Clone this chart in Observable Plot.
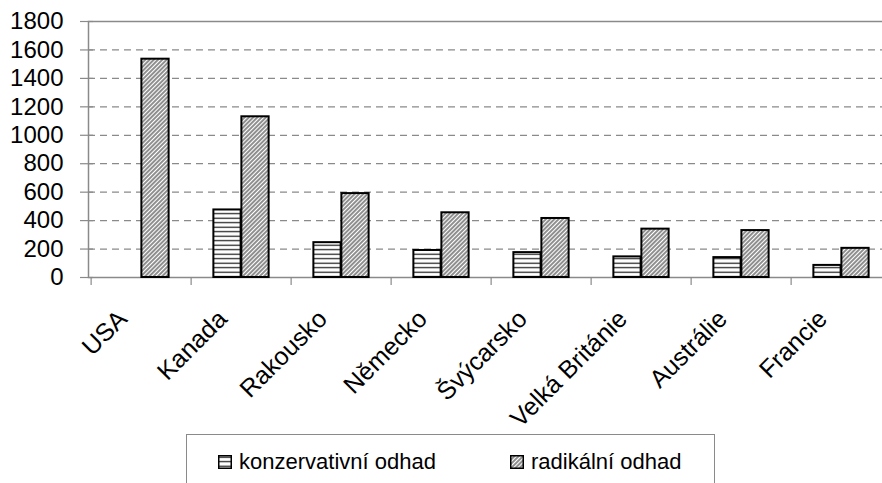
<!DOCTYPE html>
<html>
<head>
<meta charset="utf-8">
<script src="https://cdn.jsdelivr.net/npm/d3@7"></script>
<script src="https://cdn.jsdelivr.net/npm/@observablehq/plot@0.6"></script>
<style>
  html, body { margin: 0; padding: 0; background: #fff; overflow: hidden; }
  body { font-family: "Liberation Sans", Arial, sans-serif; }
  #wrap { position: relative; width: 882px; height: 483px; overflow: hidden; }
  #legend { position: absolute; left: 186px; top: 434px; width: 529px; height: 70px; border: 1px solid #8a8a8a; box-sizing: border-box; background: #fff; }
  .item { position: absolute; top: 16px; display: flex; align-items: center; font-size: 22px; color: #000; line-height: 22px; white-space: nowrap; }
  .item svg { margin-right: 7px; display: block; }
</style>
</head>
<body>
<svg width="0" height="0" style="position:absolute">
  <defs>
    <pattern id="hlines" patternUnits="userSpaceOnUse" width="6" height="4.5">
      <rect width="6" height="4.5" fill="#fff"></rect>
      <line x1="0" x2="6" y1="2.2" y2="2.2" stroke="#1a1a1a" stroke-width="1.2"></line>
    </pattern>
    <pattern id="diag" patternUnits="userSpaceOnUse" width="3" height="6" patternTransform="rotate(45)">
      <rect width="3" height="6" fill="#fff"></rect>
      <line x1="1" x2="1" y1="0" y2="6" stroke="#333" stroke-width="1.1"></line>
    </pattern>
  </defs>
</svg>
<div id="wrap">
  <div id="chart"></div>
  <div id="legend">
    <div class="item" style="left:31px"><svg width="14" height="14"><rect x="0.75" y="0.75" width="12.5" height="12.5" fill="url(#hlines)" stroke="#000" stroke-width="1.5"></rect></svg><span>konzervativní odhad</span></div>
    <div class="item" style="left:323px"><svg width="14" height="14"><rect x="0.75" y="0.75" width="12.5" height="12.5" fill="url(#diag)" stroke="#000" stroke-width="1.5"></rect></svg><span>radikální odhad</span></div>
  </div>
</div>
<script>
const countries = ["USA", "Kanada", "Rakousko", "Německo", "Švýcarsko", "Velká Británie", "Austrálie", "Francie"];
const conservative = [null, 475, 245, 190, 175, 145, 140, 85];
const radical = [1535, 1130, 590, 455, 415, 340, 330, 205];
const yTicks = [0, 200, 400, 600, 800, 1000, 1200, 1400, 1600, 1800];
const gridTicks = [200, 400, 600, 800, 1000, 1200, 1400, 1600];

const consRows = countries.map((c, i) => ({country: c, value: conservative[i]})).filter(d => d.value != null);
const radRows = countries.map((c, i) => ({country: c, value: radical[i]}));

const bw = (894 - 88) / countries.length;

const chart = Plot.plot({
  width: 882,
  height: 434,
  marginLeft: 88,
  marginTop: 21,
  marginBottom: 157,
  marginRight: -20,
  style: {fontFamily: "'Liberation Sans', Arial, sans-serif", fontSize: "22px", background: "#fff", color: "#000"},
  x: {domain: countries, range: [88, 894], padding: 0, axis: null},
  y: {domain: [0, 1800], axis: null},
  marks: [
    Plot.ruleY(gridTicks, {stroke: "#8a8a8a", strokeWidth: 1.3, strokeDasharray: "7,5"}),
    Plot.frame({stroke: "#8a8a8a", strokeWidth: 1.5}),
    Plot.ruleY(yTicks, {stroke: "#8a8a8a", strokeWidth: 1.2, insetLeft: -8, insetRight: 882 + 20 - 88 - 5}),
    Plot.ruleX(countries, {x: d => d, dx: -bw / 2, stroke: "#8a8a8a", strokeWidth: 1.2, insetTop: 256, insetBottom: -8}),
    Plot.barY(consRows, {x: "country", y: "value", fill: "url(#hlines)", stroke: "#000", strokeWidth: 2, insetLeft: bw / 2 - 28, insetRight: bw / 2}),
    Plot.barY(radRows, {x: "country", y: "value", fill: "url(#diag)", stroke: "#000", strokeWidth: 2, insetLeft: bw / 2, insetRight: bw / 2 - 28}),
    Plot.text(yTicks, {y: d => d, text: d => String(d), frameAnchor: "left", textAnchor: "end", dx: -25, fontSize: 24, fill: "#000"}),
    Plot.text(countries, {x: d => d, text: d => d, frameAnchor: "bottom", textAnchor: "end", rotate: -45, dx: -13, dy: 43, fontSize: 25, fill: "#000"})
  ]
});
document.getElementById("chart").appendChild(chart);
</script>
</body>
</html>
